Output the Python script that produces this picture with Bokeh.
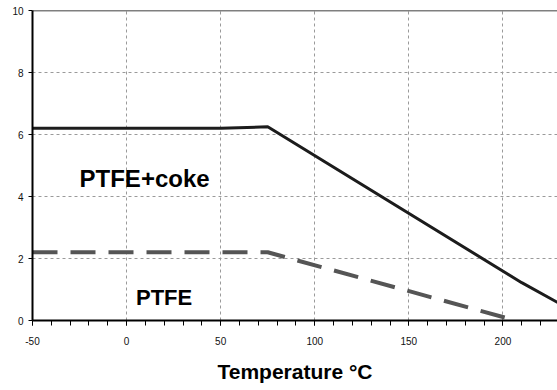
from bokeh.plotting import figure
from bokeh.models import (ColumnDataSource, Span, SingleIntervalTicker, FixedTicker,
                          Range1d, PrintfTickFormatter)
from bokeh.core.properties import value
from bokeh.embed import file_html
from bokeh.resources import INLINE

# Allowable load vs temperature
coke_temp = [-50, 50, 75, 210, 230]
coke_load = [6.2, 6.2, 6.25, 1.22, 0.55]

ptfe_temp = [-50, 75, 202]
ptfe_load = [2.2, 2.2, 0.08]

# In-plot series labels
series_names = ["PTFE+coke", "PTFE"]
label_x = [-25, 5]
label_y = [4.57, 0.73]
label_size = ["24px", "22px"]

x_ticks = [-50, 0, 50, 100, 150, 200]
y_ticks = [0, 2, 4, 6, 8, 10]

FONT = "Liberation Sans"

p = figure(width=557, height=390, output_backend="svg", toolbar_location=None,
           x_range=Range1d(-50, 229), y_range=Range1d(0, 10),
           min_border_left=32, min_border_right=0, min_border_top=10, min_border_bottom=70)
p.outline_line_color = None
p.background_fill_color = "white"
p.border_fill_color = "white"

p.line(coke_temp, coke_load, line_color="#1c1c1c", line_width=3)
p.line(ptfe_temp, ptfe_load, line_color="#555555", line_width=4, line_dash="25 13")

src = ColumnDataSource(dict(x=label_x, y=label_y, t=series_names, s=label_size))
p.text(x="x", y="y", text="t", source=src, text_font=value(FONT),
       text_font_style="bold", text_font_size="s", text_color="black",
       text_baseline="alphabetic", text_align="left")

# top edge of the frame
p.add_layout(Span(location=10, dimension="width", line_color="black", line_width=1.5))

# x axis
xa = p.xaxis[0]
xa.ticker = SingleIntervalTicker(interval=50, num_minor_ticks=5)
xa.formatter = PrintfTickFormatter(format="%d")
xa.axis_line_width = 2
xa.axis_line_color = "black"
xa.major_tick_out = 5
xa.major_tick_in = 0
xa.minor_tick_out = 5
xa.minor_tick_in = 0
xa.major_tick_line_color = "black"
xa.minor_tick_line_color = "black"
xa.major_label_text_font = FONT
xa.major_label_text_font_size = "10px"
xa.major_label_text_color = "#111111"
xa.major_label_standoff = 11
xa.axis_label = "Temperature °C"
xa.axis_label_text_font = FONT
xa.axis_label_text_font_style = "bold"
xa.axis_label_text_font_size = "21px"
xa.axis_label_text_color = "black"
xa.axis_label_standoff = 12

# y axis
ya = p.yaxis[0]
ya.ticker = FixedTicker(ticks=y_ticks)
ya.axis_line_width = 2
ya.axis_line_color = "black"
ya.major_tick_out = 4
ya.major_tick_in = 0
ya.minor_tick_line_color = None
ya.major_tick_line_color = "black"
ya.major_label_text_font = FONT
ya.major_label_text_font_size = "10px"
ya.major_label_text_color = "#111111"
ya.major_label_standoff = 5

# dashed grid
p.xgrid.ticker = FixedTicker(ticks=x_ticks)
p.ygrid.ticker = FixedTicker(ticks=[2, 4, 6, 8])
for g in (p.xgrid[0], p.ygrid[0]):
    g.grid_line_color = "#9a9a9a"
    g.grid_line_width = 1
    g.grid_line_dash = "3 3"

open("out.html", "w").write(file_html(p, INLINE))
